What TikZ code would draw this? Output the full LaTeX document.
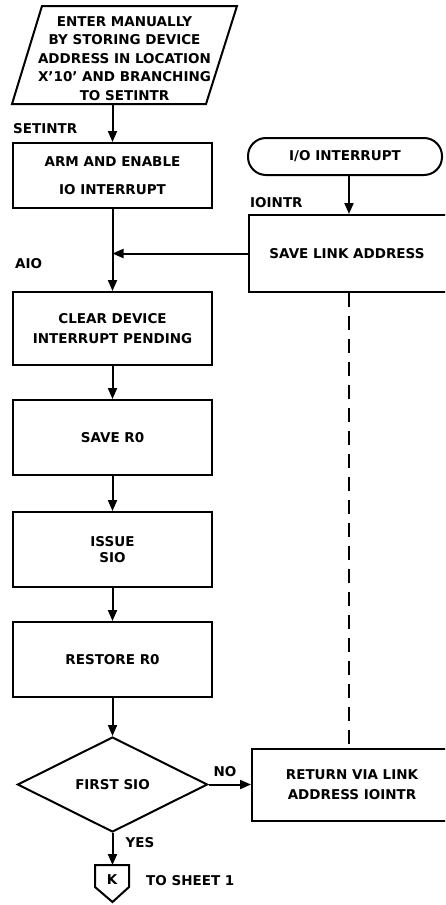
\documentclass[tikz,border=0pt]{standalone}
\usepackage{fontspec}
\setmainfont{DejaVu Sans}
\usetikzlibrary{arrows.meta,shapes.geometric}
\begin{document}
\begin{tikzpicture}[x=1pt,y=-1pt,
  every node/.style={font=\bfseries\fontsize{13.5}{18.5}\selectfont, inner sep=0pt},
  proc/.style={draw, line width=2pt, minimum width=199pt, align=center},
  rproc/.style={draw, line width=2pt, minimum width=200pt, align=center},
  lbl/.style={anchor=west},
  conn/.style={line width=2pt},
  arr/.style={conn,-{Triangle[length=11pt,width=9pt]}},
  ]
\useasboundingbox (0,0) rectangle (445,905);
\clip (0,0) rectangle (445,905);
% entry parallelogram
\draw[conn] (42,6) -- (237,6) -- (206,104) -- (12,104) -- cycle;
\node[align=center] (enter) at (124.5,58.5) {ENTER MANUALLY\\BY STORING DEVICE\\ADDRESS IN LOCATION\\X'10' AND BRANCHING\\TO SETINTR};
\coordinate (enterbot) at (112.5,104);
% left column
\node[proc, minimum height=65pt] (arm) at (112.5,175.5) {ARM AND ENABLE\\[9pt]IO INTERRUPT};
\node[proc, minimum height=73pt] (clear) at (112.5,328.5) {CLEAR DEVICE\\[1pt]INTERRUPT PENDING};
\node[proc, minimum height=75pt] (save) at (112.5,437.5) {SAVE R0};
\node[proc, minimum height=75pt] (issue) at (112.5,549.5) {ISSUE\\[-2pt]SIO};
\node[proc, minimum height=75pt] (restore) at (112.5,659.5) {RESTORE R0};
\node[draw, diamond, line width=2pt, minimum width=190pt, minimum height=95pt] (dia) at (112.5,784.5) {FIRST SIO};
% off-page connector
\draw[conn] (95,865) -- (129,865) -- (129,887) -- (112.5,902) -- (95,887) -- cycle;
\node (k) at (112,880) {K};
\coordinate (ktop) at (112.5,865);
\node[lbl] (tosheet) at (146,881) {TO SHEET 1};
% labels
\node[lbl] (lsetintr) at (13,129) {SETINTR};
\node[lbl] (laio) at (15,264) {AIO};
\node[lbl] (lioint) at (250,203) {IOINTR};
\node (lno) at (225,772) {NO};
\node (lyes) at (140,843) {YES};
% right column
\node[draw, line width=2pt, rounded corners=18pt, minimum width=194pt, minimum height=37pt] (io) at (345,156.5) {I/O INTERRUPT};
\node[rproc, minimum height=77pt] (savelink) at (349,253.5) {\hspace*{-4pt}SAVE LINK ADDRESS};
\node[rproc, minimum height=72pt] (ret) at (352,784.5) {RETURN VIA LINK\\[1pt]ADDRESS IOINTR};
% connectors
\draw[arr] (enterbot) -- (arm.north);
\draw[conn] (arm.south) -- (arm.south |- savelink.west);
\draw[arr] (arm.south |- savelink.west) -- (clear.north);
\draw[arr] (savelink.west) -- (arm.south |- savelink.west);
\draw[arr] (clear.south) -- (save.north);
\draw[arr] (save.south) -- (issue.north);
\draw[arr] (issue.south) -- (restore.north);
\draw[arr] (restore.south) -- (dia.north);
\draw[arr] (dia.east) -- (ret.west);
\draw[arr] (dia.south) -- (ktop);
\draw[arr] (savelink.north |- io.south) -- (savelink.north);
\draw[conn, dash pattern=on 14pt off 9pt] (savelink.south) -- (savelink.south |- ret.north);
\end{tikzpicture}
\end{document}
